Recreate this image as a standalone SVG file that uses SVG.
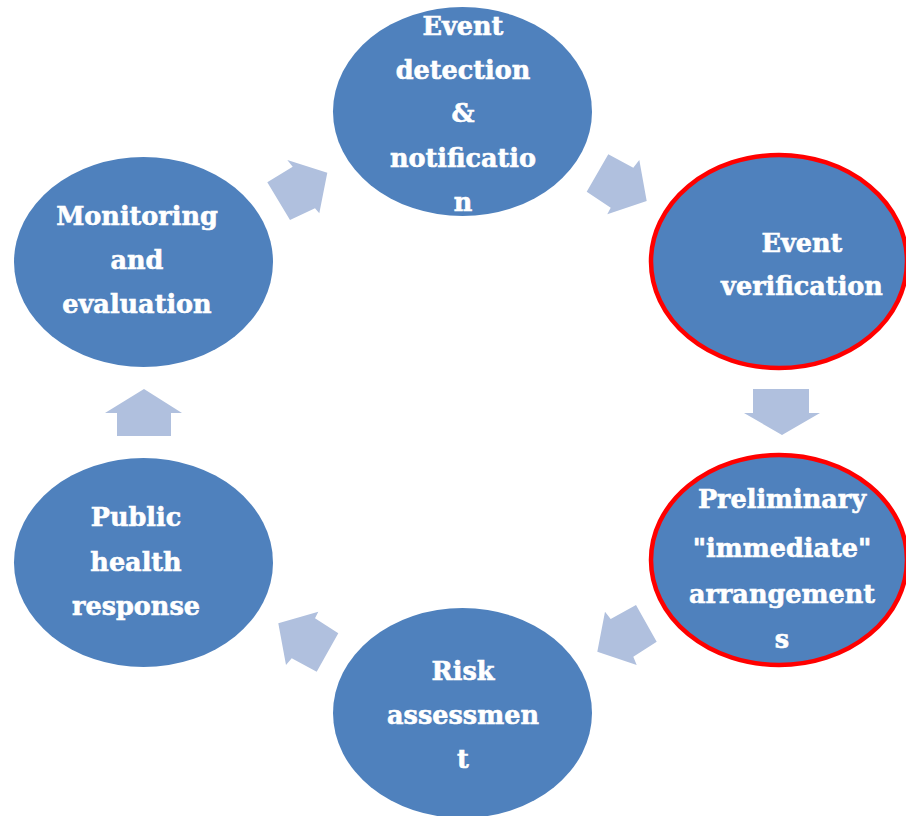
<svg xmlns="http://www.w3.org/2000/svg" width="906" height="816" viewBox="0 0 906 816">
<style>
.node{fill:#4F81BD}
.hl{stroke:#FF0000;stroke-width:4.5}
.arr{fill:#B0C0DE}
text{font-family:"DejaVu Serif","Liberation Serif",serif;font-weight:bold;font-size:25.5px;fill:#FFFFFF;stroke:#FFFFFF;stroke-width:0.6;text-anchor:middle}
</style>
<rect width="906" height="816" fill="#FFFFFF"/>
<g id="connectors">
<polygon class="arr" points="267.3,182.3 292.7,166.7 287.3,160 327.3,172.7 319.3,213.3 315,208.3 290,220"/>
<polygon class="arr" points="608.3,154.3 633.3,167.7 639.3,160 646.7,201 607.3,214.3 610.7,207.7 586.7,191.7"/>
<polygon class="arr" points="753,389 809,389 809,413 820,413 782,435 744,413 753,413"/>
<polygon class="arr" points="636,605 656.7,641.7 633.3,656.7 636.7,665 597.3,651.7 605,611.7 610.7,619"/>
<polygon class="arr" points="338.3,633.3 316.7,671.7 291.7,658.3 286,665 278.3,623.3 318.3,611.7 315,618.3"/>
<polygon class="arr" points="117,436 117,413 105,413 144,389 182,413 171,413 171,436"/>
</g>
<g id="n1">
<ellipse class="node" cx="462.5" cy="111.5" rx="129.5" ry="104.5"/>
<text x="463" y="35">Event</text>
<text x="463" y="79">detection</text>
<text x="463" y="122">&amp;</text>
<text x="463" y="167">notificatio</text>
<text x="463" y="211">n</text>
</g>
<g id="n2">
<ellipse class="node hl" cx="779" cy="261.5" rx="128" ry="106.5"/>
<text x="802" y="252">Event</text>
<text x="802" y="295">verification</text>
</g>
<g id="n3">
<ellipse class="node hl" cx="779" cy="560" rx="128" ry="105"/>
<text x="782" y="508">Preliminary</text>
<text x="782" y="557">"immediate"</text>
<text x="782" y="603">arrangement</text>
<text x="782" y="648">s</text>
</g>
<g id="n4">
<ellipse class="node" cx="462.5" cy="713" rx="129.5" ry="105"/>
<text x="463" y="680">Risk</text>
<text x="463" y="724">assessmen</text>
<text x="463" y="768">t</text>
</g>
<g id="n5">
<ellipse class="node" cx="143.5" cy="562.5" rx="129.5" ry="104.5"/>
<text x="136" y="526">Public</text>
<text x="136" y="571">health</text>
<text x="136" y="615">response</text>
</g>
<g id="n6">
<ellipse class="node" cx="143.5" cy="262" rx="129.5" ry="105"/>
<text x="137" y="225">Monitoring</text>
<text x="137" y="269">and</text>
<text x="137" y="313">evaluation</text>
</g>
</svg>
